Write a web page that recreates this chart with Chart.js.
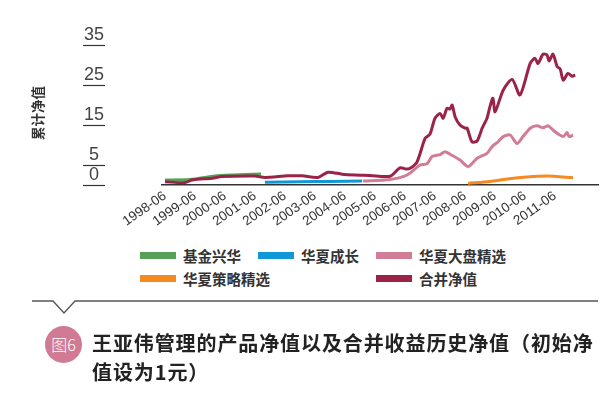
<!DOCTYPE html>
<html>
<head>
<meta charset="utf-8">
<script src="https://cdn.jsdelivr.net/npm/chart.js@4/dist/chart.umd.min.js"></script>
<style>
  body { margin: 0; background: #fff; width: 611px; height: 397px; overflow: hidden; position: relative; font-family: "Noto Sans CJK SC", sans-serif; }
  #chartBox { position: absolute; left: 0; top: 0; width: 611px; height: 245px; }
  .legend { position: absolute; left: 0; top: 0; font-weight: bold; font-size: 14.5px; color: #333; }
  .item { position: absolute; display: flex; align-items: center; height: 20px; white-space: nowrap; }
  .sw { width: 36px; height: 7px; margin-right: 7px; }
  .title { position: absolute; left: 92px; top: 328px; width: 515px; font-weight: bold; font-size: 20px; line-height: 29px; color: #222; letter-spacing: 0.9px; }
  .badge { position: absolute; left: 45px; top: 326px; width: 37px; height: 37px; border-radius: 50%; background: #d07a93; color: #fff; font-size: 16px; line-height: 37px; text-align: center; font-weight: 300; }
</style>
</head>
<body>
<div id="chartBox"><canvas id="c" width="611" height="245"></canvas></div>

<div class="legend" id="legend"></div>

<svg width="611" height="397" style="position:absolute;left:0;top:0">
  <polyline points="32,301 53,301 64,313 75,301 598,301" fill="none" stroke="#555" stroke-width="1.3"/>
</svg>
<div class="badge">图6</div>
<div class="title">王亚伟管理的产品净值以及合并收益历史净值（初始净值设为1元）</div>

<script>
// values, x = decimal year
const heTime = [1998.42, 1999.09, 1999.32, 1999.99, 2000.32, 2001.42, 2001.75, 2002.52, 2002.99, 2003.52, 2003.85, 2004.32, 2004.75, 2005.25, 2005.92, 2006.25, 2006.45, 2006.59, 2006.82, 2007.09, 2007.25, 2007.42, 2007.59, 2007.69, 2007.82, 2007.92, 2007.99, 2008.09, 2008.25, 2008.42, 2008.49, 2008.65, 2008.82, 2008.99, 2009.15, 2009.25, 2009.35, 2009.42, 2009.69, 2009.99, 2010.25, 2010.59, 2010.75, 2010.85, 2011.02, 2011.15, 2011.22, 2011.35, 2011.49, 2011.59, 2011.69, 2011.85, 2011.99, 2012.09];
const heValue = [0.8, 0.6, 1.25, 1.7, 2.1, 2.25, 1.9, 2.3, 2.3, 1.9, 3.2, 2.7, 2.5, 2.4, 2.2, 4.3, 4.0, 4.2, 5.8, 11.7, 12.7, 16.7, 17.9, 16.7, 19.2, 19.0, 20.0, 17.0, 15.0, 14.2, 14.2, 10.8, 11.0, 14.2, 16.7, 19.6, 21.7, 18.3, 23.7, 26.4, 22.5, 30.4, 31.7, 30.4, 32.7, 32.5, 31.0, 32.7, 29.6, 29.0, 26.2, 27.9, 27.2, 27.5];

const dapanTime = [2005.02, 2005.92, 2006.49, 2006.92, 2007.15, 2007.32, 2007.59, 2007.75, 2007.92, 2008.25, 2008.52, 2008.82, 2009.15, 2009.32, 2009.52, 2009.69, 2009.92, 2010.15, 2010.35, 2010.59, 2010.82, 2011.02, 2011.19, 2011.42, 2011.69, 2011.82, 2011.89, 2012.02];
const dapanValue = [1.0, 1.4, 2.5, 5.0, 5.3, 7.1, 7.6, 8.3, 7.7, 6.25, 4.6, 6.7, 7.9, 9.6, 10.8, 12.1, 12.5, 10.4, 12.1, 14.2, 14.8, 14.3, 14.8, 13.3, 12.1, 13.1, 12.1, 12.5];

const celueTime = [2008.52, 2009.25, 2009.82, 2010.49, 2011.15, 2012.02];
const celueValue = [0.4, 0.9, 1.5, 2.0, 2.25, 1.8];

const chengzhangTime = [2001.75, 2002.92, 2003.92, 2004.99];
const chengzhangValue = [0.7, 0.8, 0.9, 1.0];

const xinghuaTime = [1998.42, 1999.25, 2000.09, 2000.59, 2001.09, 2001.62];
const xinghuaValue = [1.25, 1.35, 2.25, 2.5, 2.6, 2.75];

const xTickLabels = ['1998-06', '1999-06', '2000-06', '2001-06', '2002-06', '2003-06', '2004-06', '2005-06', '2006-06', '2007-06', '2008-06', '2009-06', '2010-06', '2011-06'];
const yTicks = [0, 5, 15, 25, 35];

const toYear = s => +s.slice(0, 4) + (+s.slice(5) - 1) / 12;
const pts = (t, v) => t.map((x, i) => ({ x: x, y: v[i] }));

const series = [
  { name: '合并净值', color: '#9b2348', data: pts(heTime, heValue) },
  { name: '华夏大盘精选', color: '#d27d96', data: pts(dapanTime, dapanValue) },
  { name: '华夏策略精选', color: '#f58a20', data: pts(celueTime, celueValue) },
  { name: '华夏成长', color: '#1196d8', data: pts(chengzhangTime, chengzhangValue) },
  { name: '基金兴华', color: '#56a057', data: pts(xinghuaTime, xinghuaValue) }
];

// html legend, same grid as the picture
const legendPos = {
  '基金兴华': [140, 245], '华夏成长': [258, 245], '华夏大盘精选': [376, 245],
  '华夏策略精选': [140, 268], '合并净值': [376, 268]
};
document.getElementById('legend').innerHTML = Object.keys(legendPos).map(n => {
  const s = series.find(d => d.name === n);
  const [l, t] = legendPos[n];
  return `<div class="item" style="left:${l}px;top:${t}px"><div class="sw" style="background:${s.color}"></div>${n}</div>`;
}).join('');

const underlines = {
  id: 'underlines',
  afterDraw(chart) {
    const y = chart.scales.y, ctx = chart.ctx;
    ctx.save();
    ctx.strokeStyle = '#333';
    ctx.lineWidth = 1.2;
    y.ticks.forEach(t => {
      const py = Math.round(y.getPixelForValue(t.value)) + 0.5;
      ctx.beginPath();
      ctx.moveTo(83, py);
      ctx.lineTo(105, py);
      ctx.stroke();
    });
    ctx.restore();
  }
};

new Chart(document.getElementById('c'), {
  type: 'line',
  data: {
    datasets: series.map(s => ({
      label: s.name,
      data: s.data,
      borderColor: s.color,
      borderWidth: 3,
      pointRadius: 0,
      tension: 0.25,
      fill: false
    }))
  },
  options: {
    responsive: false,
    animation: false,
    layout: { padding: { top: 41, right: 13, left: 0, bottom: 0 } },
    plugins: { legend: { display: false }, tooltip: { enabled: false } },
    scales: {
      x: {
        type: 'linear',
        min: 1998.32,
        max: 2012.85,
        afterBuildTicks: s => { s.ticks = xTickLabels.map(l => ({ value: toYear(l) })); },
        afterFit: s => { s.height = 60; },
        grid: { display: false, drawTicks: false },
        border: { display: true, color: '#333', width: 1.5 },
        ticks: {
          autoSkip: false,
          minRotation: 35,
          maxRotation: 35,
          padding: 3,
          color: '#333',
          font: { family: 'Liberation Sans', size: 13.5 },
          callback: (v, i) => xTickLabels[i]
        }
      },
      y: {
        min: 0,
        max: 36,
        afterBuildTicks: s => { s.ticks = yTicks.map(v => ({ value: v })); },
        afterFit: s => { s.width = 162; s.paddingTop = 0; s.paddingBottom = 0; },
        grid: { display: false, drawTicks: false },
        border: { display: false },
        ticks: {
          crossAlign: 'center',
          padding: 58,
          labelOffset: -10,
          color: '#444',
          font: { family: 'Liberation Sans', size: 18 }
        },
        title: {
          display: true,
          text: '累计净值',
          color: '#333',
          padding: { top: 30, bottom: 0 },
          font: { family: 'Noto Sans CJK SC', size: 13.5, weight: 'bold' }
        }
      }
    }
  },
  plugins: [underlines]
});
</script>
</body>
</html>
